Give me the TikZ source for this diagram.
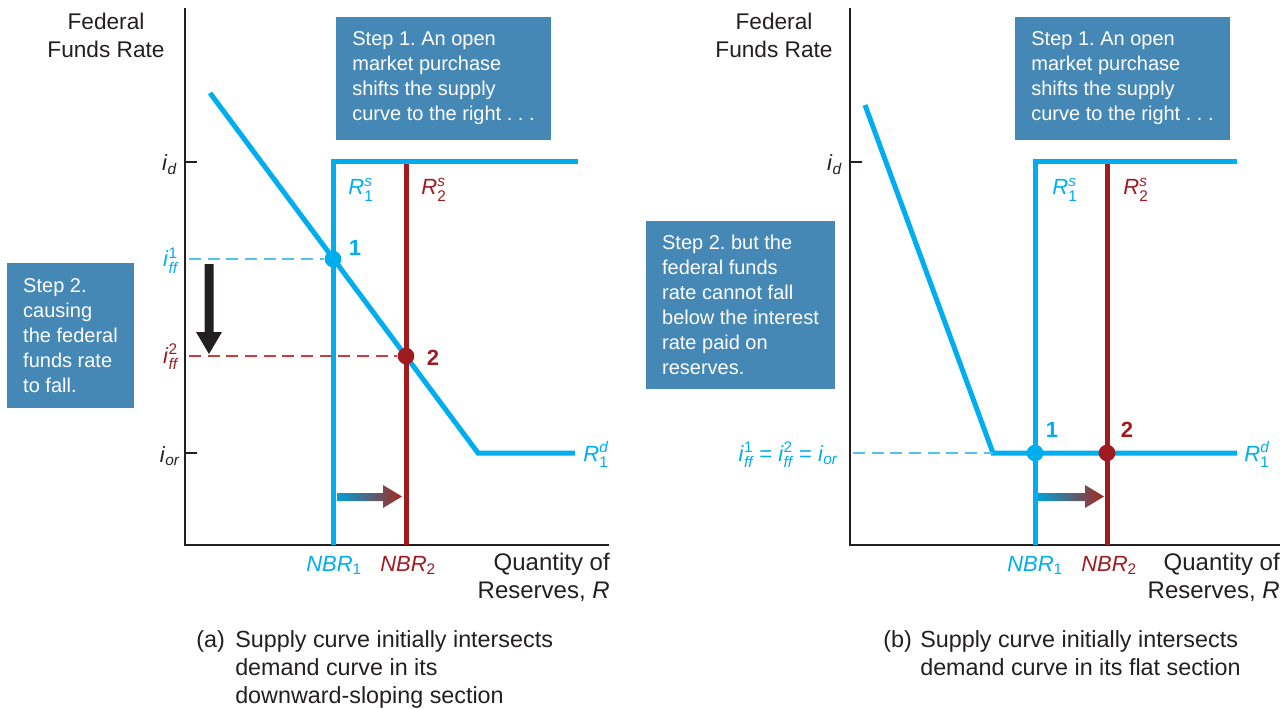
\documentclass[tikz,border=0pt]{standalone}
\usepackage{fontspec}
\setmainfont{Liberation Sans}
\usepackage{amsmath}
\frenchspacing
\definecolor{cyanc}{RGB}{0,174,239}
\definecolor{redc}{RGB}{160,27,32}
\definecolor{boxc}{RGB}{69,136,181}
\definecolor{inkc}{RGB}{35,31,32}
\definecolor{cyand}{RGB}{80,195,240}
\definecolor{redd}{RGB}{205,60,60}
\definecolor{arrowmid}{RGB}{110,110,128}
\definecolor{arrowl}{RGB}{0,160,215}
\definecolor{arrowr}{RGB}{165,40,30}
\newcommand{\ivar}[2]{\textit{i}$^{\text{#1}}_{\textit{#2}}$}
\newcommand{\isub}[1]{\textit{i}$_{\textit{#1}}$}
\newcommand{\Rvar}[2]{\textit{R}$^{\textit{#2}}_{\text{#1}}$}
\newcommand{\NBR}[1]{\textit{NBR}$_{\text{#1}}$}
\begin{document}
\begin{tikzpicture}[x=0.75pt,y=-0.75pt,
  axisline/.style={draw=inkc, line width=1.1pt},
  cyanline/.style={draw=cyanc, line width=3.75pt},
  redline/.style={draw=redc, line width=3.75pt},
  dashcyan/.style={draw=cyand, line width=1.1pt, dash pattern=on 9pt off 5pt},
  dashred/.style={draw=redd, line width=1.1pt, dash pattern=on 9pt off 5pt},
  dot/.style={circle, inner sep=0pt, minimum size=12.5pt},
  stepbox/.style={fill=boxc, text=white, align=left, inner sep=0pt,
    font=\fontsize{15}{18.75}\selectfont},
  axtitle/.style={text=inkc, align=center, inner sep=0pt, font=\fontsize{17}{21}\selectfont},
  axright/.style={text=inkc, align=right, inner sep=0pt, font=\fontsize{18}{21}\selectfont},
  lab/.style={inner sep=0pt, font=\fontsize{16.5}{20}\selectfont},
  numlab/.style={inner sep=0pt, font=\fontsize{16.5}{20}\selectfont\bfseries},
  captext/.style={text=inkc, align=left, inner sep=0pt, font=\fontsize{17.5}{21}\selectfont}
]
\useasboundingbox (0,0) rectangle (1280,709);

%================ PANEL (a) ================
% axes
\coordinate (aTop) at (185,8);
\coordinate (aO) at (185,545);
\coordinate (aRight) at (609,545);
\draw[axisline] (aTop) -- (aO) -- (aRight);
\coordinate (aTd0) at (185,162); \coordinate (aTd1) at (197,162);
\coordinate (aTo0) at (185,453); \coordinate (aTo1) at (197,453);
\draw[axisline] (aTd0) -- (aTd1);
\draw[axisline] (aTo0) -- (aTo1);

\node[axtitle, anchor=base] (aTitle) at (106,58) {Federal\\Funds Rate};
\node[lab, text=inkc, anchor=base east] (aId) at (177,171) {\isub{d}};
\node[lab, text=inkc, anchor=base east] (aIor) at (180,462) {\isub{or}};

% step boxes
\node[stepbox, minimum width=161.25pt, minimum height=92.25pt] (aStep1) at (443.5,78.5)
  {Step 1. An open\\market purchase\\shifts the supply\\curve to the right . . .};
\node[stepbox, minimum width=95.25pt, minimum height=108.75pt] (aStep2) at (70.5,335.5)
  {Step 2.\\causing\\the federal\\funds rate\\to fall.};

% supply curves
\coordinate (ar0) at (406,545); \coordinate (ar1) at (406,162);
\draw[redline] (ar0) -- (ar1);
\coordinate (as0) at (333,545); \coordinate (as1) at (333,162); \coordinate (as2) at (578,162);
\draw[cyanline] (as0) -- (as1) -- (as2);
% demand curve
\coordinate (ad1) at (210,93); \coordinate (ad2) at (478,453); \coordinate (ad3) at (575,453);
\draw[cyanline] (ad1) -- (ad2) -- (ad3);

% equilibrium points
\node[dot, fill=cyanc] (aP1) at (333,259) {};
\node[dot, fill=redc] (aP2) at (406,356) {};
\coordinate (aD1) at (189,259);
\coordinate (aD2) at (189,356);
\draw[dashcyan] (aD1) -- (aP1.west);
\draw[dashred] (aD2) -- (aP2.west);
\node[lab, text=cyanc, anchor=base east] (aIff1) at (178,267) {\ivar{1}{ff}};
\node[lab, text=redc, anchor=base east] (aIff2) at (178,363) {\ivar{2}{ff}};
\node[numlab, text=cyanc, anchor=base] (aN1) at (355,255) {1};
\node[numlab, text=redc, anchor=base] (aN2) at (433,365) {2};

% curve labels
\node[lab, text=cyanc, anchor=base] (aRs1) at (361,195) {\Rvar{1}{s}};
\node[lab, text=redc, anchor=base] (aRs2) at (434,195) {\Rvar{2}{s}};
\node[lab, text=cyanc, anchor=base] (aRd1) at (596,461) {\Rvar{1}{d}};

% black down arrow
\fill[inkc] (204.5,264) -- (213.5,264) -- (213.5,332) -- (222,332) -- (209,354)
  -- (196,332) -- (204.5,332) -- cycle;

% gradient shift arrow
\shade[left color=arrowl, middle color=arrowmid, right color=arrowr]
  (337,493) -- (383,493) -- (383,485) -- (402,496.5) -- (383,508) -- (383,501) -- (337,501) -- cycle;

% x labels
\node[lab, text=cyanc, anchor=base west] (aNBR1) at (306,571) {\NBR{1}};
\node[lab, text=redc, anchor=base west] (aNBR2) at (380,571) {\NBR{2}};
\node[axright, anchor=base east] (aQty) at (610,598) {Quantity of\\Reserves, \textit{R}};

% caption
\node[captext, anchor=base west] (aCapTag) at (196,647) {(a)};
\node[captext, anchor=base west] (aCap) at (235,703)
  {Supply curve initially intersects\\demand curve in its\\downward-sloping section};

%================ PANEL (b) ================
\coordinate (bTop) at (850,8);
\coordinate (bO) at (850,545);
\coordinate (bRight) at (1280,545);
\draw[axisline] (bTop) -- (bO) -- (bRight);
\coordinate (bTd0) at (850,162); \coordinate (bTd1) at (862,162);
\draw[axisline] (bTd0) -- (bTd1);

\node[axtitle, anchor=base] (bTitle) at (774,58) {Federal\\Funds Rate};
\node[lab, text=inkc, anchor=base east] (bId) at (842,171) {\isub{d}};

\node[stepbox, minimum width=161.25pt, minimum height=92.25pt] (bStep1) at (1122.5,78.5)
  {Step 1. An open\\market purchase\\shifts the supply\\curve to the right . . .};
\node[stepbox, minimum width=141.75pt, minimum height=126pt] (bStep2) at (740.5,305)
  {Step 2. but the\\federal funds\\rate cannot fall\\below the interest\\rate paid on\\reserves.};

% supply curves
\coordinate (br0) at (1107,545); \coordinate (br1) at (1107,162);
\draw[redline] (br0) -- (br1);
\coordinate (bs0) at (1035,545); \coordinate (bs1) at (1035,162); \coordinate (bs2) at (1237,162);
\draw[cyanline] (bs0) -- (bs1) -- (bs2);
% demand curve
\coordinate (bd1) at (865,105); \coordinate (bd2) at (993,453); \coordinate (bd3) at (1237,453);
\draw[cyanline] (bd1) -- (bd2) -- (bd3);
\coordinate (bD0) at (853,453);
\draw[dashcyan] (bD0) -- (bd2);

\node[dot, fill=cyanc] (bP1) at (1035,453) {};
\node[dot, fill=redc] (bP2) at (1107,453) {};
\node[numlab, text=cyanc, anchor=base] (bN1) at (1052,437) {1};
\node[numlab, text=redc, anchor=base] (bN2) at (1127,437) {2};

\node[lab, text=cyanc, anchor=base east] (bIeq) at (838,461)
  {\ivar{1}{ff} = \ivar{2}{ff} = \isub{or}};

\node[lab, text=cyanc, anchor=base] (bRs1) at (1065,195) {\Rvar{1}{s}};
\node[lab, text=redc, anchor=base] (bRs2) at (1136,195) {\Rvar{2}{s}};
\node[lab, text=cyanc, anchor=base] (bRd1) at (1257,461) {\Rvar{1}{d}};

\shade[left color=arrowl, middle color=arrowmid, right color=arrowr]
  (1038,493) -- (1085,493) -- (1085,485) -- (1104,496.5) -- (1085,508) -- (1085,501) -- (1038,501) -- cycle;

\node[lab, text=cyanc, anchor=base west] (bNBR1) at (1007,571) {\NBR{1}};
\node[lab, text=redc, anchor=base west] (bNBR2) at (1081,571) {\NBR{2}};
\node[axright, anchor=base east] (bQty) at (1280,598) {Quantity of\\Reserves, \textit{R}};

\node[captext, anchor=base west] (bCapTag) at (883,647) {(b)};
\node[captext, anchor=base west] (bCap) at (920,675)
  {Supply curve initially intersects\\demand curve in its flat section};
\end{tikzpicture}
\end{document}
